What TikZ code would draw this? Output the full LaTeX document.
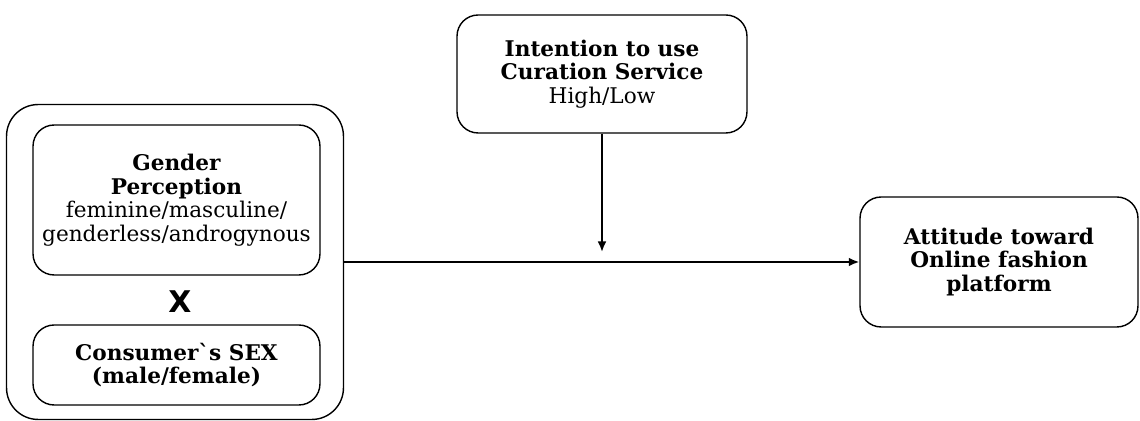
\documentclass[tikz,border=0pt]{standalone}
\usepackage{fontspec}
\setmainfont{DejaVu Serif}
\newfontfamily\crossfont{DejaVu Sans}
\usetikzlibrary{arrows.meta}

\tikzset{
    roundbox/.style={draw, rectangle, rounded corners=12pt, line width=0.8pt, align=center,
        inner sep=2pt, font=\fontsize{12.3}{13.4}\selectfont},
    link/.style={line width=1.1pt, -{Latex[length=6pt,width=5pt]}}
}

\begin{document}
\begin{tikzpicture}[x=0.02cm, y=-0.02cm]
    \useasboundingbox (0,0) rectangle (1140,421);

    % Independent variables
    \node[roundbox, rounded corners=18pt, minimum width=6.74cm, minimum height=6.3cm] (group) at (175,262) {};
    \node[roundbox, minimum width=5.74cm, minimum height=3cm] (perception) at (176.5,200)
        {\textbf{Gender}\\ \textbf{Perception}\\ feminine/masculine/\\ genderless/androgynous};
    \node[font=\crossfont\bfseries\fontsize{17}{17}\selectfont] (cross) at (180,302) {X};
    \node[roundbox, minimum width=5.74cm, minimum height=1.6cm] (sex) at (176.5,365)
        {\textbf{Consumerˋs SEX}\\ \textbf{(male/female)}};

    % Moderator
    \node[roundbox, minimum width=5.8cm, minimum height=2.36cm] (intention) at (602,74)
        {\textbf{Intention to use}\\ \textbf{Curation Service}\\ High/Low};

    % Dependent variable
    \node[roundbox, minimum width=5.56cm, minimum height=2.6cm] (attitude) at (999,262)
        {\textbf{Attitude toward}\\ \textbf{Online fashion}\\ \textbf{platform}};

    % Paths
    \coordinate (meet) at (602,252);
    \draw[link] (group.east) -- (attitude.west);
    \draw[link] (intention.south) -- (meet);
\end{tikzpicture}
\end{document}
